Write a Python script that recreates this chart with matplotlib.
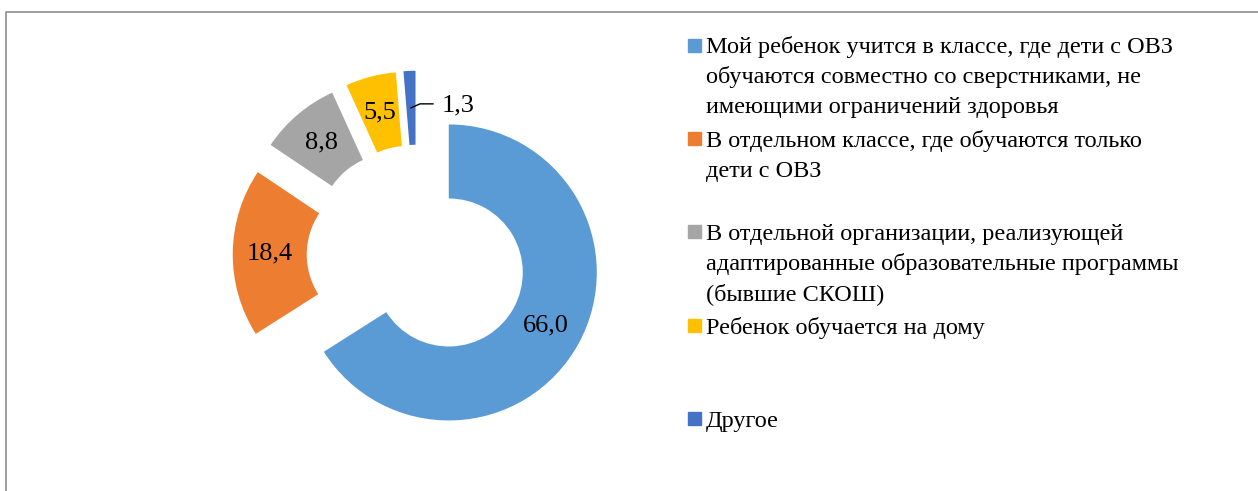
import matplotlib
matplotlib.use("Agg")
import matplotlib.pyplot as plt
import numpy as np
from matplotlib.patches import Rectangle
from matplotlib.lines import Line2D

labels = [
    "Мой ребенок учится в классе, где дети с ОВЗ\nобучаются совместно со сверстниками, не\nимеющими ограничений здоровья",
    "В отдельном классе, где обучаются только\nдети с ОВЗ",
    "В отдельной организации, реализующей\nадаптированные образовательные программы\n(бывшие СКОШ)",
    "Ребенок обучается на дому",
    "Другое",
]
values = [66.0, 18.4, 8.8, 5.5, 1.3]
colors = ["#5B9BD5", "#ED7D31", "#A5A5A5", "#FFC000", "#4472C4"]

plt.rcParams["font.family"] = ["Liberation Serif", "DejaVu Serif"]

W, H = 1258, 491
fig = plt.figure(figsize=(W / 100, H / 100), dpi=100)
ax = fig.add_axes([0, 0, 1, 1])

# pixel geometry of the donut
cx, cy, R = 417, 255, 148
wedges, _ = ax.pie(values, colors=colors, startangle=90, counterclock=False,
                   explode=[0.245] * len(values), radius=1,
                   wedgeprops=dict(width=0.5, linewidth=0))
ax.set_xlim(-cx / R, (W - cx) / R)
ax.set_ylim(-(H - cy) / R, cy / R)
ax.axis("off")

fmt = lambda v: f"{v:.1f}".replace(".", ",")
for w, v in zip(wedges[:-1], values[:-1]):
    ang = np.deg2rad((w.theta1 + w.theta2) / 2)
    x = w.center[0] + 0.75 * np.cos(ang)
    y = w.center[1] + 0.75 * np.sin(ang)
    ax.text(x, y, fmt(v), ha="center", va="center", fontsize=19)

# last small slice: outside label with leader line
w = wedges[-1]
ang = np.deg2rad((w.theta1 + w.theta2) / 2)
px = w.center[0] + 0.75 * np.cos(ang)
py = w.center[1] + 0.75 * np.sin(ang)
ax.plot([px, px + 9 / R, px + 22 / R], [py, py + 4 / R, py + 4 / R],
        color="black", lw=1)
ax.text(px + 31 / R, py + 2 / R, fmt(values[-1]), ha="left", va="center", fontsize=19)

# legend drawn manually to keep Excel-like even spacing
for i, (lab, c) in enumerate(zip(labels, colors)):
    base = 53.5 + 93.4 * i
    fig.patches.append(Rectangle((688 / W, 1 - (base - 2) / H), 13 / W, 13 / H,
                                 transform=fig.transFigure, color=c))
    for j, line in enumerate(lab.split("\n")):
        fig.text(706 / W, 1 - (base + 30 * j) / H, line, fontsize=17.5,
                 va="baseline", ha="left")

# outer frame (left and top edges visible)
fig.lines.append(Line2D([6.5 / W, 6.5 / W, 1.0], [0, 1 - 11.5 / H, 1 - 11.5 / H],
                        transform=fig.transFigure, color="#8c8c8c", lw=1.2))

fig.savefig("out.png", dpi=100)
